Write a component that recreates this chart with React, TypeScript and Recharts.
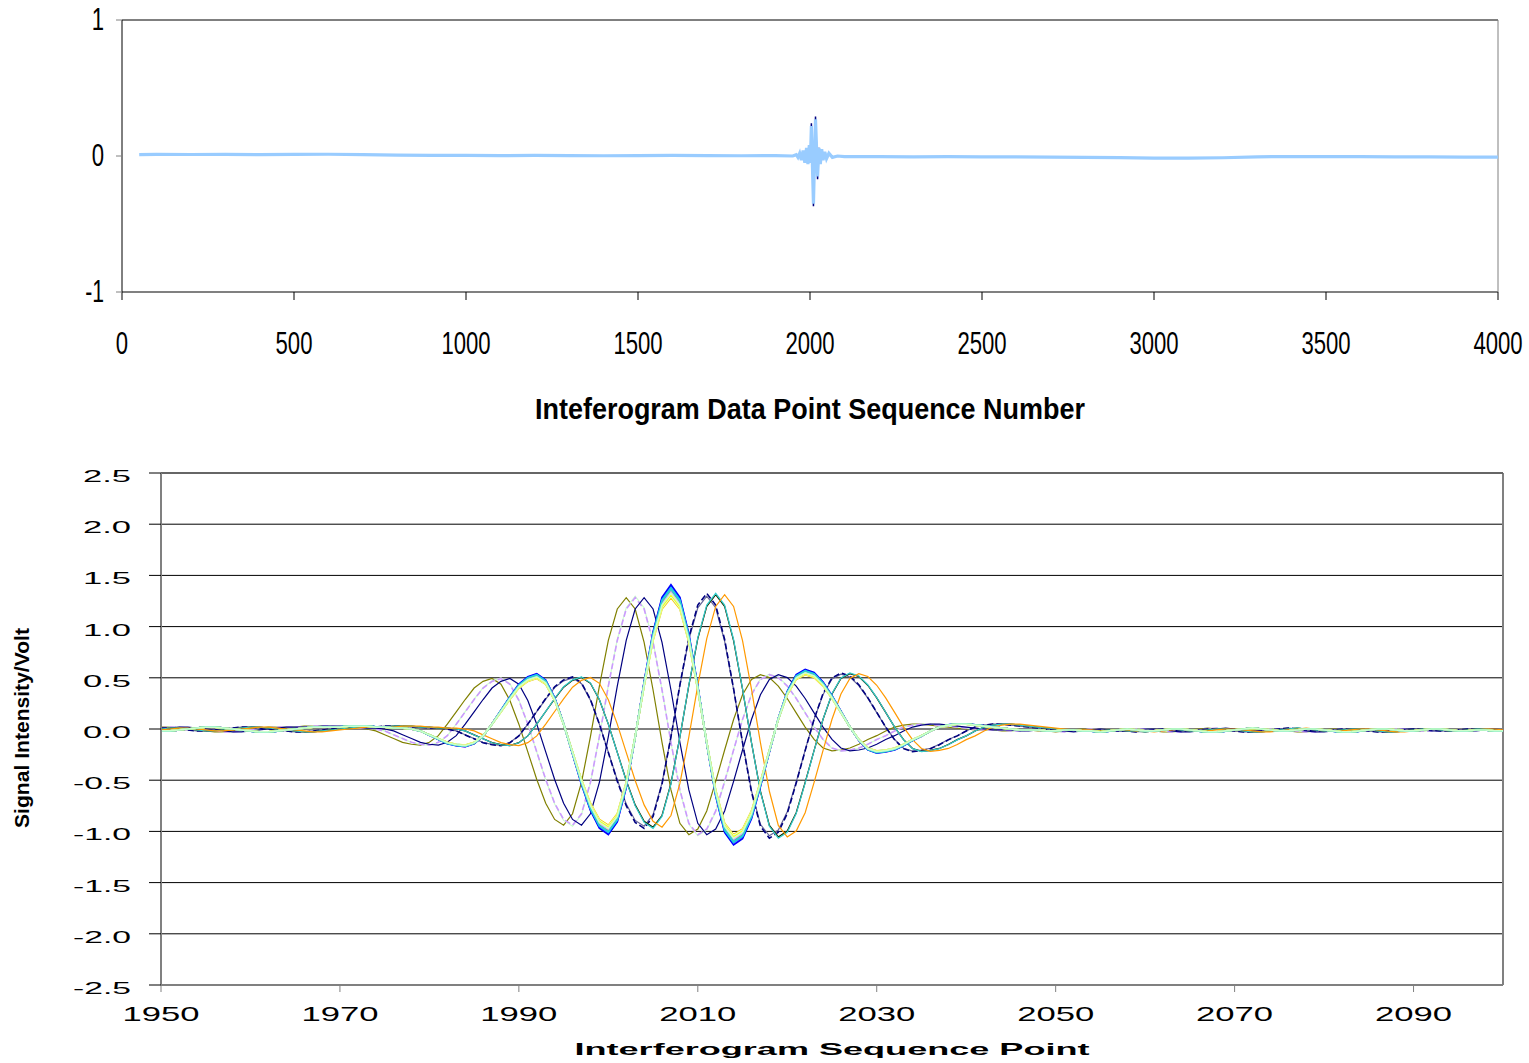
import React from 'react';
import { LineChart, Line, XAxis, YAxis, CartesianGrid, ReferenceLine } from 'recharts';

// ---- top panel: full interferogram (sparse read-off of the trace) ----
const topX = [
  50, 100, 200, 300, 400, 500, 600, 700, 800, 900, 1000, 1100, 1200, 1300, 1400, 1500, 1600, 1700, 1800, 1900,
  1950, 1960, 1965, 1970, 1975, 1980, 1985, 1990, 1994, 1998, 2001, 2004, 2010, 2016, 2022, 2026, 2030, 2034,
  2038, 2043, 2048, 2055, 2065, 2080, 2100,
  2200, 2300, 2400, 2500, 2600, 2700, 2800, 2900, 3000, 3100, 3200, 3300, 3400, 3500, 3600, 3700, 3800, 3900, 4000,
];
const topY = [
  0.010, 0.012, 0.011, 0.012, 0.010, 0.012, 0.013, 0.010, 0.006, 0.004, 0.004, 0.003, 0.004, 0.003, 0.002, 0.003, 0.004, 0.003, 0.002, 0.003,
  0.000, 0.010, -0.010, 0.020, -0.030, 0.040, -0.050, 0.060, -0.060, 0.080, -0.050, 0.220, -0.350, 0.270, -0.150, 0.060, -0.060, 0.050,
  -0.030, 0.030, -0.020, 0.020, -0.010, 0.000, -0.004,
  -0.005, -0.006, -0.005, -0.006, -0.007, -0.008, -0.010, -0.012, -0.015, -0.016, -0.013, -0.006, -0.004, -0.005, -0.004, -0.006, -0.007, -0.008, -0.009,
];
// darker trace underneath, only peeks out at the burst tips
const navyX = [1998, 2001, 2004, 2010, 2016, 2022, 2026];
const navyY = [0.08, -0.05, 0.24, -0.37, 0.29, -0.17, 0.06];
const topTicksX = [0, 500, 1000, 1500, 2000, 2500, 3000, 3500, 4000];
const topTicksY = [-1, 0, 1];

// ---- bottom panel: overlaid centre-burst scans ----
const PULSE_START = 1940;
const pulse = [
  0.00, -0.01, -0.02, -0.02, -0.01, 0.00, 0.01, 0.01, 0.00, -0.01, -0.02, -0.02, -0.01, 0.00, 0.01,
  0.02, 0.02, 0.01, 0.00, -0.01, -0.02, -0.03, -0.03, -0.02, -0.01, 0.00, 0.01, 0.02, 0.02, 0.02,
  0.02, 0.03, 0.03, 0.03, 0.02, 0.02, 0.01, 0.01, 0.00, -0.02,
  -0.06, -0.10, -0.14, -0.16, -0.17, -0.14, -0.07, 0.05, 0.18, 0.31,
  0.43, 0.50, 0.53, 0.47, 0.30, 0.05, -0.24, -0.53, -0.78, -0.95,
  -1.01, -0.89, -0.56, -0.08, 0.45, 0.93, 1.26, 1.38, 1.26, 0.91,
  0.41, -0.14, -0.64, -0.99, -1.11, -1.05, -0.86, -0.55, -0.22, 0.10,
  0.36, 0.52, 0.57, 0.54, 0.45, 0.32, 0.17, 0.02, -0.11, -0.20,
  -0.23, -0.22, -0.20, -0.16, -0.11, -0.07, -0.02, 0.02, 0.04, 0.05,
  0.05, 0.04, 0.03, 0.02, 0.01, 0.00, -0.01, -0.01, -0.01, -0.02,
  -0.02, -0.01, -0.01, -0.02, -0.02, -0.03, -0.02, -0.01, 0.00, -0.01,
  -0.02, -0.02, -0.01, 0.00, 0.00, -0.01, -0.02, -0.03, -0.03, -0.02,
  -0.01, 0.00, 0.01, 0.00, -0.01, -0.02, -0.02, -0.01, 0.00, 0.00,
  -0.01, -0.02, -0.03, -0.03, -0.02, -0.01, 0.00, 0.00, -0.01, -0.02,
  -0.02, -0.01, 0.00, 0.00, -0.01, -0.02, -0.02, -0.01, -0.01, -0.02,
  -0.02, -0.01, 0.00, -0.01, -0.02, -0.02, -0.01, 0.00, -0.01, -0.02, -0.02,
];
const traceColors = [
  '#808000', '#CCFFCC', '#CC99FF', '#000080', '#666699', '#000080', '#FF8080', '#003300', '#33CCCC', '#FF9900',
  '#FF00FF', '#0000FF', '#800000', '#3366FF', '#99CCFF', '#00FFFF', '#339966', '#99CC00', '#FFCC00', '#FF99CC',
  '#00CCFF', '#CCFFFF', '#FFFF99', '#CC99FF', '#FFFF00', '#33CCCC', '#CCFFCC',
];
const traceShifts = [-5, -4, -4, -3, 4, 4, 5, 5, 5, 6, 0, 0, 0, 0, 0, 0, 0, 0, 0, 0, 0, 0, 0, 0, 0, 0, 0];
const traceScales = [
  0.93, 0.94, 0.93, 0.93, 0.94, 0.96, 0.95, 0.95, 0.96, 0.95,
  1.01, 1.02, 0.99, 0.97, 0.95, 0.94, 0.98, 0.96, 0.93, 0.97, 1.0, 0.94, 0.95, 0.97, 0.95, 0.99, 0.96,
];
const traceDashes = [
  '', '', '6 3', '', '', '6 3', '', '', '', '',
  '', '', '4 2 1 2', '', '', '', '', '', '', '', '', '', '', '5 3', '', '', '',
];
const bottomTicksX = [1950, 1970, 1990, 2010, 2030, 2050, 2070, 2090];
const bottomTicksY = [-2.5, -2, -1.5, -1, -0.5, 0, 0.5, 1, 1.5, 2, 2.5];

const navyMap = new Map(navyX.map((x, i) => [x, navyY[i]]));
const topRows = topX.map((x, i) => ({ x, v: topY[i], n: navyMap.get(x) }));

const bottomRows: any[] = [];
for (let x = 1950; x <= 2100; x++) {
  const row: any = { x };
  traceShifts.forEach((s, i) => {
    row['s' + i] = +(traceScales[i] * pulse[x - s - PULSE_START]).toFixed(3);
  });
  bottomRows.push(row);
}

const narrow = "'Liberation Sans Narrow', 'Liberation Sans', Arial, sans-serif";
const sans = "'Liberation Sans', Arial, sans-serif";

const charW = (s: string, digit: number, dot: number, minus: number) =>
  s.split('').reduce((w, c) => w + (c === '.' ? dot : c === '-' ? minus : digit), 0);

function TopXTick(props: any) {
  const s = String(props.payload.value);
  return (
    <text x={props.x} y={354} textAnchor="middle" fontFamily={narrow} fontSize={32} fill="#000"
      textLength={charW(s, 12.3, 6, 7)} lengthAdjust="spacingAndGlyphs">{s}</text>
  );
}

function TopYTick(props: any) {
  const s = String(props.payload.value);
  return (
    <text x={104} y={props.y + 10} textAnchor="end" fontFamily={narrow} fontSize={32} fill="#000"
      textLength={charW(s, 12.3, 6, 6.5)} lengthAdjust="spacingAndGlyphs">{s}</text>
  );
}

function BottomXTick(props: any) {
  const s = String(props.payload.value);
  return (
    <text x={props.x} y={581} textAnchor="middle" fontFamily={sans} fontSize={21} fill="#000"
      textLength={77} lengthAdjust="spacingAndGlyphs">{s}</text>
  );
}

function BottomYTick(props: any) {
  const s = Number(props.payload.value).toFixed(1);
  return (
    <text x={131} y={props.y + 9} textAnchor="end" fontFamily={sans} fontSize={17} fill="#000"
      textLength={charW(s, 19.5, 9, 10)} lengthAdjust="spacingAndGlyphs">{s}</text>
  );
}

export default function App() {
  return (
    <div style={{ position: 'absolute', left: 0, top: 0, width: 1529, height: 1063, background: '#fff' }}>
      <div style={{ position: 'absolute', left: 0, top: 0 }}>
        <LineChart width={1529} height={440} data={topRows} margin={{ top: 20, right: 31, bottom: 0, left: 0 }}>
          <XAxis dataKey="x" type="number" domain={[0, 4000]} ticks={topTicksX} interval={0}
            axisLine={{ stroke: '#808080', strokeWidth: 2 }} tickLine={{ stroke: '#000' }} tickSize={8}
            height={148} tick={<TopXTick />} />
          <YAxis type="number" domain={[-1, 1]} ticks={topTicksY} width={122} interval={0}
            axisLine={{ stroke: '#000' }} tickLine={{ stroke: '#808080' }} tickSize={6} tick={<TopYTick />} />
          <ReferenceLine y={1} stroke="#000" />
          <ReferenceLine x={4000} stroke="#808080" />
          <Line type="linear" dataKey="n" stroke="#000080" strokeWidth={1.5} dot={false}
            isAnimationActive={false} connectNulls={false} />
          <Line type="linear" dataKey="v" stroke="#99CCFF" strokeWidth={3.2} dot={false}
            isAnimationActive={false} />
        </LineChart>
      </div>
      <div style={{ position: 'absolute', left: 0, top: 440 }}>
        <LineChart width={1529} height={623} data={bottomRows} margin={{ top: 33, right: 26, bottom: 0, left: 0 }}>
          <CartesianGrid vertical={false} stroke="#000" horizontalValues={bottomTicksY} />
          <XAxis dataKey="x" type="number" domain={[1950, 2100]} ticks={bottomTicksX} interval={0}
            axisLine={{ stroke: '#808080', strokeWidth: 2 }} tickLine={{ stroke: '#808080' }} tickSize={7}
            height={78} tick={<BottomXTick />} />
          <YAxis type="number" domain={[-2.5, 2.5]} ticks={bottomTicksY} width={161} interval={0}
            axisLine={{ stroke: '#808080', strokeWidth: 2 }} tickLine={{ stroke: '#000' }} tickSize={12}
            tick={<BottomYTick />} />
          <ReferenceLine x={2100} stroke="#808080" strokeWidth={2} />
          <ReferenceLine y={2.5} stroke="#666" strokeWidth={2} />
          {traceColors.map((c, i) => (
            <Line key={i} type="linear" dataKey={'s' + i} stroke={c}
              strokeWidth={traceDashes[i] ? 1.6 : traceShifts[i] === 0 ? 1.7 : 1.2}
              strokeDasharray={traceDashes[i] || undefined}
              dot={false} isAnimationActive={false} />
          ))}
        </LineChart>
      </div>
      <svg width={1529} height={1063} style={{ position: 'absolute', left: 0, top: 0, pointerEvents: 'none' }}>
        <text x={810} y={419} textAnchor="middle" fontFamily={narrow} fontWeight="bold" fontSize={29}
          textLength={550} lengthAdjust="spacingAndGlyphs" fill="#000">Inteferogram Data Point Sequence Number</text>
        <text x={832} y={1055} textAnchor="middle" fontFamily={sans} fontWeight="bold" fontSize={17}
          textLength={515} lengthAdjust="spacingAndGlyphs" fill="#000">Interferogram Sequence Point</text>
        <text x={29} y={728} textAnchor="middle" fontFamily={sans} fontWeight="bold" fontSize={20}
          transform="rotate(-90, 29, 728)" textLength={200} lengthAdjust="spacingAndGlyphs"
          fill="#000">Signal Intensity/Volt</text>
      </svg>
    </div>
  );
}
